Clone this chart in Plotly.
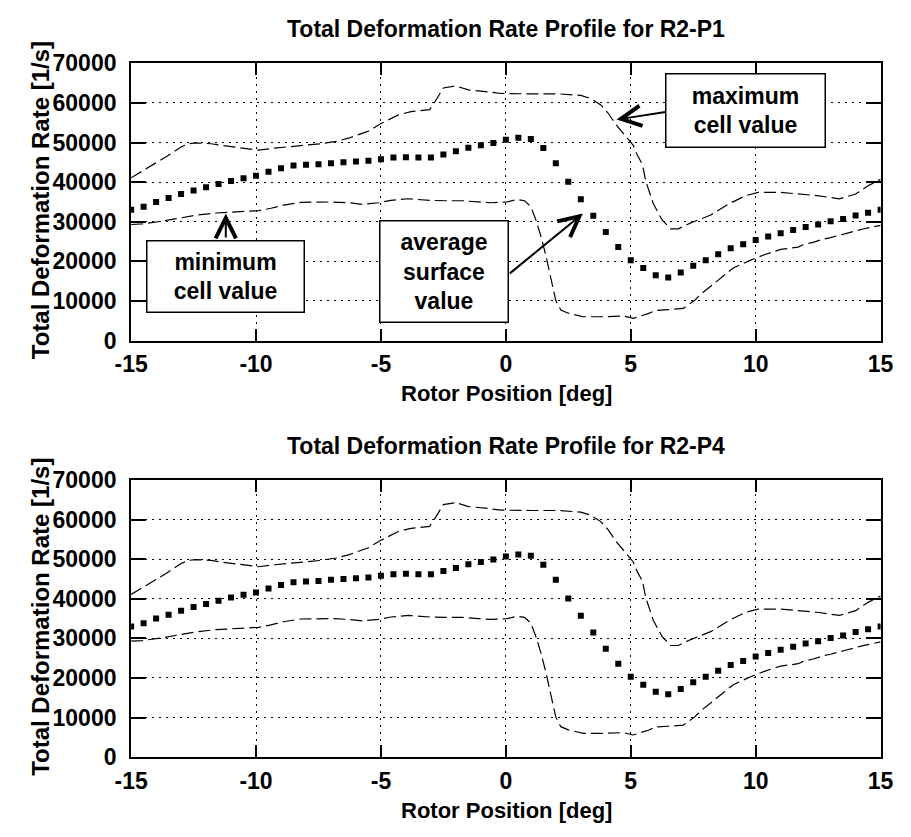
import plotly.graph_objects as go

# ---- rotor positions and average surface value (sampled every 0.5 deg) ----
avg_x = [i * 0.5 - 15 for i in range(61)]
avg_y = [33000, 33800, 35000, 36000, 37000, 37900, 38700, 39500, 40300, 41000,
         41600, 42600, 43500, 44200, 44400, 44500, 44800, 45000, 45200, 45400,
         45800, 46200, 46300, 46200, 46200, 47000, 47800, 48700, 49300, 49900,
         50700, 51200, 50900, 48600, 44800, 40100, 35700, 31500, 27400, 23600,
         20300, 18300, 16500, 15900, 17200, 18900, 20300, 21800, 23300, 24300,
         25400, 26300, 27100, 27900, 28700, 29300, 30100, 30700, 31600, 32300,
         33000]

# ---- maximum cell value ----
max_x = [-15.0, -14.0, -13.6, -13.0, -12.7, -12.4, -11.8, -11.4, -10.5, -9.9,
         -9.25, -8.6, -8.1, -7.4, -6.8, -6.3, -5.5, -5.0, -4.3, -3.8,
         -3.05, -2.8, -2.5, -2.0, -1.5, -0.7, -0.2, 1.0, 2.1, 3.0,
         3.4, 3.8, 4.1, 4.4, 4.8, 5.1, 5.2, 5.47, 5.6, 5.9,
         6.25, 6.6, 6.9, 7.4, 8.2, 8.95, 9.6, 10.1, 11.0, 11.8,
         12.45, 13.35, 14.0, 14.5, 15.0]
max_y = [41100, 44800, 46400, 48900, 49700, 49900, 49700, 49300, 48600, 48100,
         48600, 48900, 49300, 49700, 50300, 51100, 52900, 54800, 57000, 57800,
         58300, 60700, 63800, 64300, 63300, 62800, 62400, 62300, 62300, 61900,
         61100, 59500, 57400, 54600, 51700, 49300, 47600, 44400, 40300, 34600,
         30500, 28200, 28200, 29700, 31700, 34600, 36600, 37400, 37400, 37000,
         36600, 35800, 37000, 39100, 40700]

# ---- minimum cell value ----
min_x = [-15.0, -14.55, -13.8, -13.1, -12.35, -11.6, -11.05, -10.4, -9.9, -9.4,
         -8.9, -8.2, -7.6, -7.0, -6.3, -5.75, -5.1, -4.6, -3.9, -3.05,
         -2.4, -1.75, -1.1, -0.6, 0.05, 0.45, 0.75, 1.0, 1.2, 1.4,
         1.6, 1.8, 2.0, 2.2, 2.5, 3.1, 3.9, 4.7, 5.1, 5.7,
         6.0, 6.5, 7.1, 7.55, 7.8, 8.3, 8.45, 9.1, 9.8, 10.4,
         11.0, 11.7, 11.9, 12.3, 12.7, 13.0, 13.6, 14.25, 15.0]
min_y = [29300, 29450, 30100, 30900, 31700, 32200, 32400, 32600, 32800, 33400,
         34200, 34900, 35000, 35000, 34800, 34400, 34800, 35400, 35800, 35400,
         35300, 35300, 35000, 34800, 35000, 35600, 35300, 33800, 30500, 26400,
         21500, 15800, 10100, 7700, 6900, 6000, 6000, 6200, 5600, 6800,
         7600, 7800, 8100, 10100, 11700, 14200, 15000, 18300, 20300, 21800,
         23000, 23600, 24200, 24800, 25600, 26000, 27000, 28100, 29100]

panel_titles = ["Total Deformation Rate Profile for R2-P1",
                "Total Deformation Rate Profile for R2-P4"]
x_ticks = [-15, -10, -5, 0, 5, 10, 15]
y_ticks = [0, 10000, 20000, 30000, 40000, 50000, 60000, 70000]

FONT = "Arial, 'Liberation Sans', sans-serif"
W, H = 911, 837

fig = go.Figure()

for k in range(2):
    xa = "x" if k == 0 else "x2"
    ya = "y" if k == 0 else "y2"
    fig.add_trace(go.Scatter(x=max_x, y=max_y, mode="lines", xaxis=xa, yaxis=ya,
                             line=dict(color="black", width=1.2, dash="12px,5px"),
                             showlegend=False, hoverinfo="skip"))
    fig.add_trace(go.Scatter(x=min_x, y=min_y, mode="lines", xaxis=xa, yaxis=ya,
                             line=dict(color="black", width=1.2, dash="12px,5px"),
                             showlegend=False, hoverinfo="skip"))
    fig.add_trace(go.Scatter(x=avg_x, y=avg_y, mode="markers", xaxis=xa, yaxis=ya,
                             marker=dict(color="black", size=6, symbol="square"),
                             showlegend=False, hoverinfo="skip"))

def px_x(p):
    return p / W

def px_y(p):
    return 1 - p / H

panel_px = [(52, 338), (482, 768)]
x_dom = [px_x(118), px_x(893)]

axis_common = dict(
    showline=True, linecolor="black", linewidth=2, mirror="ticks",
    ticks="inside", tickcolor="black", tickwidth=2,
    showgrid=True, gridcolor="black", gridwidth=1, griddash="2px,5px",
    zeroline=False,
    tickfont=dict(family=FONT, size=23, color="black", weight="bold"),
)

layout = dict(width=W, height=H, margin=dict(l=0, r=0, t=0, b=0),
              paper_bgcolor="white", plot_bgcolor="white",
              font=dict(family=FONT, color="black"))

for k, (top, bot) in enumerate(panel_px):
    sfx = "" if k == 0 else "2"
    layout["xaxis" + sfx] = dict(axis_common, domain=x_dom, range=[-15, 15],
                                 tickmode="array", tickvals=x_ticks,
                                 ticktext=[str(v) for v in x_ticks],
                                 ticklen=12, ticklabelstandoff=2,
                                 anchor="y" + sfx)
    layout["yaxis" + sfx] = dict(axis_common, domain=[px_y(bot), px_y(top)],
                                 range=[0, 70000], tickmode="array", tickvals=y_ticks,
                                 ticktext=[str(v) for v in y_ticks],
                                 ticklen=15, ticklabelstandoff=8,
                                 anchor="x" + sfx)

fig.update_layout(**layout)

# panel titles, axis titles
ann = []
off = [0, 430]
for k in range(2):
    ann.append(dict(text="<b>%s</b>" % panel_titles[k], xref="paper", yref="paper",
                    x=px_x(506), y=px_y(17 + off[k]), showarrow=False,
                    xanchor="center", yanchor="middle",
                    font=dict(family=FONT, size=23, color="black")))
    ann.append(dict(text="<b>Rotor Position [deg]</b>", xref="paper", yref="paper",
                    x=px_x(506), y=px_y(393 + off[k]), showarrow=False,
                    xanchor="center", yanchor="middle",
                    font=dict(family=FONT, size=22, color="black")))
    ann.append(dict(text="<b>Total Deformation Rate [1/s]</b>", xref="paper", yref="paper",
                    x=px_x(24), y=px_y(193 + off[k]), showarrow=False, textangle=-90,
                    xanchor="center", yanchor="middle",
                    font=dict(family=FONT, size=24, color="black")))

# labelled boxes with arrows on the first panel
boxes = [
    dict(text="<b>maximum<br>cell value</b>", x=9.58, y=58060, w=158, h=72),
    dict(text="<b>minimum<br>cell value</b>", x=-11.23, y=16230, w=156, h=70),
    dict(text="<b>average<br>surface<br>value</b>", x=-2.46, y=17500, w=127, h=100),
]
for b in boxes:
    ann.append(dict(text=b["text"], x=b["x"], y=b["y"], xref="x", yref="y",
                    showarrow=False, xanchor="center", yanchor="middle",
                    width=b["w"], height=b["h"], align="center", valign="middle",
                    bgcolor="white", bordercolor="black", borderwidth=1.5, borderpad=0,
                    font=dict(family=FONT, size=23, color="black")))

arrows = [
    dict(tail=(6.45, 57760), tip=(4.43, 55800)),
    dict(tail=(-11.21, 25630), tip=(-11.21, 32060)),
    dict(tail=(0.10, 16640), tip=(3.08, 32060)),
]
for a in arrows:
    ann.append(dict(text="", x=a["tip"][0], y=a["tip"][1], xref="x", yref="y",
                    ax=a["tail"][0], ay=a["tail"][1], axref="x", ayref="y",
                    showarrow=True, arrowhead=5, arrowsize=2, arrowwidth=2,
                    arrowcolor="black", standoff=0, startstandoff=0))

fig.update_layout(annotations=ann)
fig.write_html("out.html")
